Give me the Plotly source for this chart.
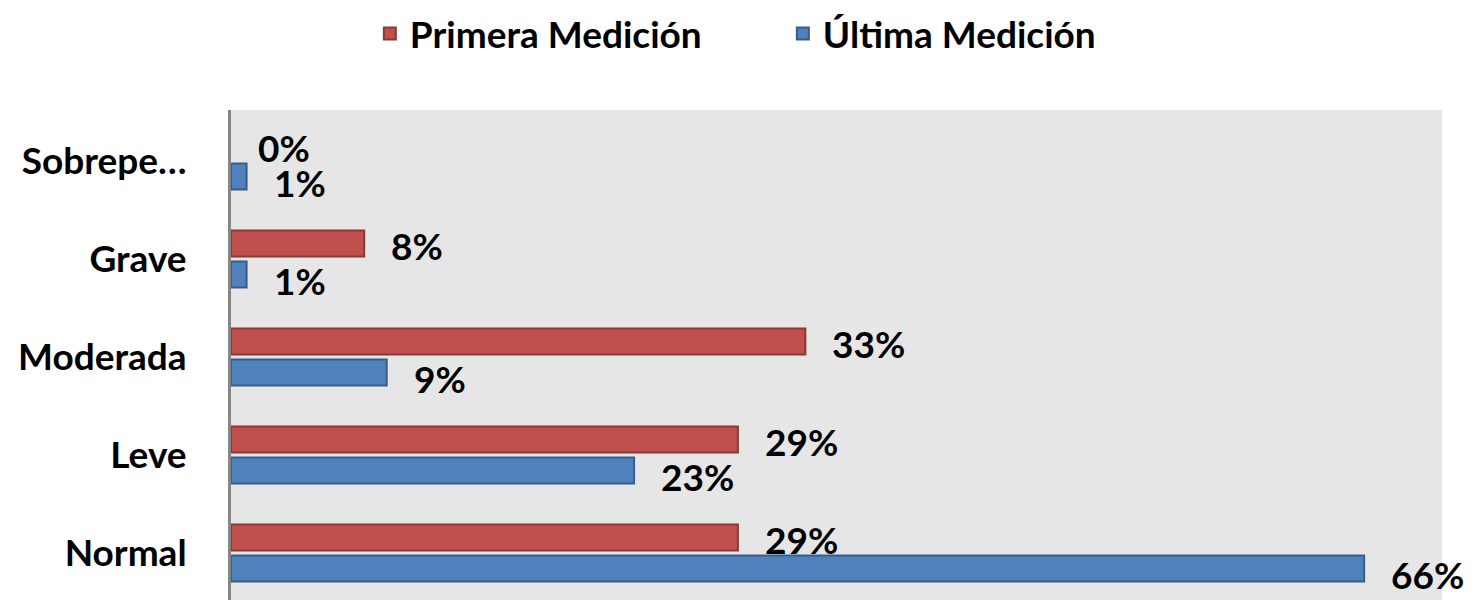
import plotly.graph_objects as go

categories = ["Normal", "Leve", "Moderada", "Grave", "Sobrepe…"]
primera = [0.293, 0.293, 0.332, 0.077, 0.0]
ultima = [0.655, 0.233, 0.090, 0.009, 0.009]

RED = "#C0504D"
RED_EDGE = "#8C3836"
BLUE = "#4F81BD"
BLUE_EDGE = "#385D8A"
FONT = "Lato"
FS = 37

fig = go.Figure()
fig.add_trace(go.Bar(
    y=categories, x=ultima, orientation="h", name="Última Medición",
    marker=dict(color=BLUE, line=dict(color=BLUE_EDGE, width=2)),
    legendrank=2,
))
fig.add_trace(go.Bar(
    y=categories, x=primera, orientation="h", name="Primera Medición",
    marker=dict(color=RED, line=dict(color=RED_EDGE, width=[0 if v == 0 else 2 for v in primera])),
    legendrank=1,
))

annotations = []
for cat, v in zip(categories, primera):
    annotations.append(dict(x=v, y=cat, text=f"{round(v*100)}%", showarrow=False,
                            xanchor="left", yanchor="middle", xshift=25, yshift=13,
                            font=dict(family=FONT, size=FS, color="black", weight="bold")))
for cat, v in zip(categories, ultima):
    annotations.append(dict(x=v, y=cat, text=f"{round(v*100)}%", showarrow=False,
                            xanchor="left", yanchor="middle", xshift=25, yshift=-22,
                            font=dict(family=FONT, size=FS, color="black", weight="bold")))

fig.update_layout(
    width=1471, height=592,
    margin=dict(l=223, r=37, t=102, b=0, autoexpand=False),
    paper_bgcolor="white",
    plot_bgcolor="#E6E6E6",
    barmode="group",
    bargap=0.367,
    bargroupgap=0.16,
    font=dict(family=FONT, size=FS, color="black", weight="bold"),
    showlegend=True,
    legend=dict(orientation="h", xref="container", yref="paper",
                x=0.246, xanchor="left", y=1.2184, yanchor="top",
                font=dict(family=FONT, size=FS, weight="bold"),
                entrywidth=368, entrywidthmode="pixels",
                itemsizing="constant"),
    annotations=annotations,
)
fig.update_xaxes(range=[0, 0.70], showgrid=False, zeroline=False, showticklabels=False,
                 ticks="", showline=False)
fig.update_yaxes(range=[-0.48, 4.52], showgrid=False, zeroline=False, showline=True,
                 linecolor="#868686", linewidth=3, ticks="", ticklabelstandoff=34,
                 tickfont=dict(family=FONT, size=FS, weight="bold"))

fig.write_html("out.html")
